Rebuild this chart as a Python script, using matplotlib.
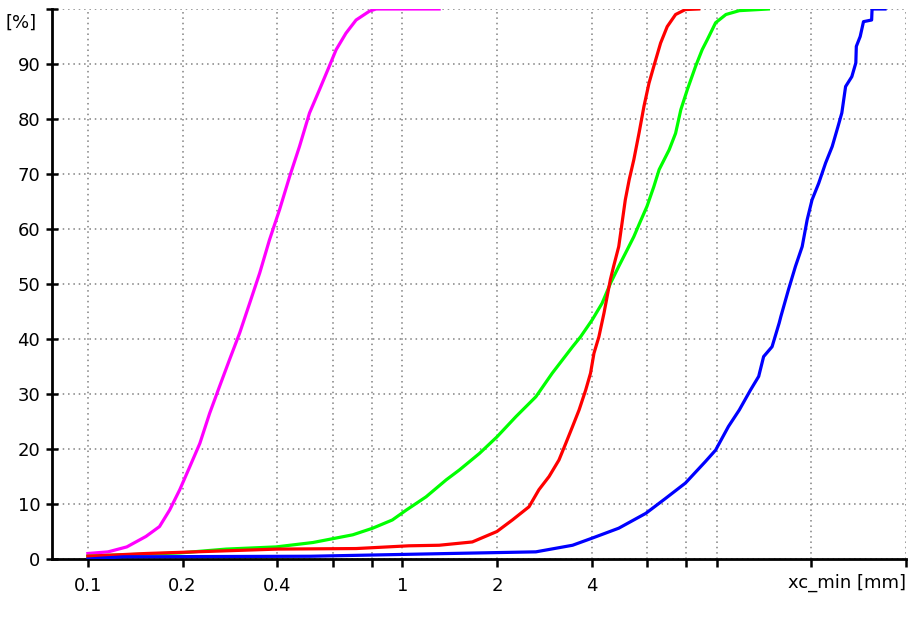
import numpy as np
import matplotlib
matplotlib.use("Agg")
import matplotlib.pyplot as plt

# cumulative curves (x in mm, y in %)
magenta_x = [0.1, 0.116, 0.133, 0.153, 0.169, 0.182, 0.196, 0.211, 0.227, 0.244, 0.262, 0.282,
             0.304, 0.327, 0.352, 0.378, 0.407, 0.438, 0.471, 0.507, 0.545, 0.586, 0.616, 0.662,
             0.713, 0.786, 0.825, 1.31]
magenta_y = [1.0, 1.3, 2.2, 4.1, 5.9, 8.9, 12.6, 16.8, 21.0, 26.5, 31.3, 36.2,
             41.1, 46.5, 52.0, 58.0, 63.5, 69.5, 75.0, 81.1, 85.3, 89.6, 92.6, 95.6,
             98.0, 99.6, 100, 100]

red_x = [0.1, 0.153, 0.4, 0.713, 1.05, 1.31, 1.67, 2.0, 2.24, 2.53, 2.72, 2.93, 3.15, 3.31,
         3.48, 3.65, 3.83, 3.97, 4.07, 4.22, 4.38, 4.59, 4.70, 4.88, 5.0, 5.12, 5.27, 5.45,
         5.66, 5.87, 6.09, 6.31, 6.63, 6.96, 7.4, 7.95, 8.77]
red_y = [0.5, 1.0, 1.8, 1.9, 2.4, 2.5, 3.1, 5.0, 7.1, 9.5, 12.6, 15.0, 18.0, 21.0,
         24.1, 27.1, 30.7, 33.8, 37.4, 40.4, 44.7, 50.8, 53.2, 56.8, 61.1, 65.3, 69.0, 72.6,
         77.4, 82.3, 86.5, 89.6, 93.8, 96.8, 99.0, 99.9, 100]

green_x = [0.1, 0.12, 0.196, 0.275, 0.397, 0.52, 0.696, 0.805, 0.93, 1.03, 1.19, 1.38, 1.52,
           1.76, 2.0, 2.30, 2.66, 3.0, 3.48, 3.69, 4.02, 4.32, 4.60, 4.88, 5.19, 5.45, 5.72,
           6.0, 6.31, 6.56, 7.06, 7.4, 7.69, 8.06, 8.57, 8.99, 9.33, 9.92, 10.7, 11.8, 14.6]
green_y = [0.5, 0.7, 1.1, 1.8, 2.2, 3.0, 4.4, 5.6, 7.1, 8.9, 11.3, 14.4, 16.2,
           19.2, 22.2, 25.9, 29.5, 33.8, 38.6, 40.4, 43.5, 46.5, 50.2, 53.2, 56.2, 58.6, 61.4,
           64.1, 67.7, 70.8, 74.4, 77.4, 81.7, 85.3, 89.6, 92.6, 94.4, 97.5, 99.0, 99.7, 100]

blue_x = [0.1, 0.13, 0.51, 1.41, 2.66, 3.48, 4.02, 4.88, 5.95, 6.87, 7.95, 9.2, 9.92, 10.9,
          11.8, 12.8, 13.6, 14.1, 15.0, 15.8, 16.0, 16.9, 17.8, 18.7, 19.4, 20.1, 21.1, 22.2,
          23.3, 24.3, 25.0, 25.7, 26.9, 27.7, 27.8, 28.6, 29.3, 31.1, 31.2, 34.3]
blue_y = [0.0, 0.4, 0.5, 1.0, 1.3, 2.5, 3.8, 5.6, 8.3, 11.0, 13.8, 17.7, 19.8, 24.1,
          27.1, 30.7, 33.2, 36.8, 38.6, 42.9, 44.1, 48.9, 53.2, 56.8, 61.7, 65.3, 68.3, 72.0,
          75.0, 78.6, 81.1, 85.9, 87.7, 90.2, 93.2, 95.0, 97.7, 98.0, 100, 100]

x_ticks = [0.1, 0.2, 0.4, 0.6, 0.8, 1, 2, 4, 6, 8, 10, 20, 40]
x_labels = ['0.1', '0.2', '0.4', '', '', '1', '2', '4', '', '', '', '', '']
y_ticks = [0, 10, 20, 30, 40, 50, 60, 70, 80, 90, 100]
y_labels = ['0', '10', '20', '30', '40', '50', '60', '70', '80', '90', '']

fig = plt.figure(figsize=(9.14, 6.2), dpi=100)
ax = fig.add_axes([52 / 914, 1 - 559 / 620, (906 - 52) / 914, (559 - 9) / 620])

lw = 2.3
ax.plot(magenta_x, magenta_y, color='#ff00ff', lw=lw, zorder=3)
ax.plot(green_x, green_y, color='#00ff00', lw=lw, zorder=3)
ax.plot(red_x, red_y, color='#ff0000', lw=lw, zorder=3)
ax.plot(blue_x, blue_y, color='#0000ff', lw=lw, zorder=4)

ax.set_xscale('log')
ax.set_xlim(0.0769, 40)
ax.set_ylim(0, 100)

ax.set_xticks(x_ticks)
ax.set_xticklabels(x_labels)
ax.minorticks_off()
ax.set_yticks(y_ticks)
ax.set_yticklabels(y_labels)

ax.tick_params(axis='y', direction='inout', length=9, width=1.8, labelsize=13, pad=4)
ax.tick_params(axis='x', direction='out', length=6, width=1.8, labelsize=13, pad=7)

ax.grid(True, color='#808080', linestyle=(0, (1, 2.5)), linewidth=1.1)
ax.set_axisbelow(True)

for s in ['top', 'right']:
    ax.spines[s].set_visible(False)
for s in ['left', 'bottom']:
    ax.spines[s].set_linewidth(2)

fig.text(21 / 914, 1 - 23 / 620, '[%]', ha='center', va='center', fontsize=13)
fig.text(906 / 914, 1 - 583 / 620, 'xc_min [mm]', ha='right', va='center', fontsize=13)

fig.savefig('out.png', dpi=100)
